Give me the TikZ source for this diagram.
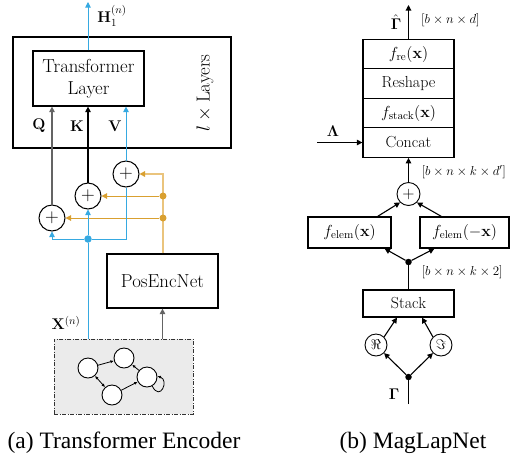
\RequirePackage{fix-cm}
\documentclass[tikz,border=0pt]{standalone}
\usepackage{amsmath,amssymb}
\usepackage[no-math]{fontspec}
\newfontfamily\capfont{Liberation Serif}
\usetikzlibrary{arrows.meta,calc}
\definecolor{cblue}{RGB}{54,169,225}
\definecolor{corange}{RGB}{217,160,48}
\definecolor{clorange}{RGB}{234,196,125}
\definecolor{cgray}{RGB}{100,100,100}
\definecolor{cfill}{RGB}{235,235,235}
\begin{document}
\begin{tikzpicture}[x=1pt,y=-1pt,
  bigtxt/.style={font=\fontsize{18.8}{22}\selectfont},
  midtxt/.style={font=\fontsize{16}{19}\selectfont},
  lbltxt/.style={font=\fontsize{15.5}{18}\selectfont},
  dimtxt/.style={font=\fontsize{13}{15}\selectfont},
  box/.style={draw, line width=1.2pt, inner sep=0pt, align=center},
  plus/.style={circle, draw, line width=1pt, inner sep=0pt},
  dot/.style={circle, fill, inner sep=0pt, minimum size=7pt},
  arr/.style={-{Triangle[length=5.5pt,width=5.5pt]}, line width=1.1pt},
  barr/.style={-{Triangle[length=5.5pt,width=5.5pt]}, line width=0.9pt, cblue},
  gnode/.style={circle, draw, fill=white, minimum size=20pt, inner sep=0pt, line width=0.9pt},
  garr/.style={-{Latex[length=3.5pt,width=3pt]}, line width=0.8pt},
  captxt/.style={font=\capfont\fontsize{23.5}{28}\selectfont}]
\useasboundingbox (0,0) rectangle (511,459);

% ---------- (a) Transformer Encoder ----------
\node[box, minimum width=218pt, minimum height=111pt] (outer) at (122,92.5) {};
\node[box, bigtxt, minimum width=111pt, minimum height=55pt] (tl) at (88.5,78.5) {Transformer\\Layer};
\node[bigtxt, rotate=90] (nlay) at (205,93) {$l\times{}$Layers};
\coordinate (hout) at (88,2);
\draw[barr] (tl.north -| hout) -- (hout);
\node[lbltxt] (hlab) at (112,16) {$\mathbf{H}_1^{(n)}$};

\node[plus, minimum size=26pt, font=\fontsize{19}{20}\selectfont] (p3) at (126,174) {$+$};
\node[plus, minimum size=26pt, font=\fontsize{19}{20}\selectfont] (p2) at (88,196) {$+$};
\node[plus, minimum size=26pt, font=\fontsize{19}{20}\selectfont] (p1) at (52,218) {$+$};

\draw[arr, cgray] (p1.north) -- (p1.north |- tl.south);
\draw[arr, black] (p2.north) -- (p2.north |- tl.south);
\draw[barr] (p3.north) -- (p3.north |- tl.south);
\node[lbltxt] (lq) at (39,126) {$\mathbf{Q}$};
\node[lbltxt] (lk) at (77,126) {$\mathbf{K}$};
\node[lbltxt] (lv) at (115,126) {$\mathbf{V}$};

\node[box, bigtxt, minimum width=111pt, minimum height=54pt] (pen) at (162.5,281) {PosEncNet};

% orange positional encodings
\coordinate (ocorner) at (163,174);
\draw[clorange, line width=1.4pt, -{Triangle[length=5.5pt,width=5.5pt,color=corange]}] (pen.north -| ocorner) -- (ocorner) -- (p3.east);
\node[dot, fill=corange] (o1) at (163,196) {};
\node[dot, fill=corange] (o2) at (163,218) {};
\draw[arr, corange, line width=1pt] (o1) -- (p2.east);
\draw[arr, corange, line width=1pt] (o2) -- (p1.east);

% graph box
\node[box, draw=black!80, line width=0.9pt, fill=cfill, dash pattern=on 4pt off 1.5pt on 1pt off 1.5pt,
      minimum width=139pt, minimum height=75pt] (gbox) at (123.5,376.5) {};
\node[gnode] (ga) at (88,368) {};
\node[gnode] (gb) at (124,358) {};
\node[gnode] (gc) at (147,377) {};
\node[gnode] (gd) at (112,395) {};
\draw[garr] (ga) -- (gb);
\draw[garr, {Latex[length=3.5pt,width=3pt]}-{Latex[length=3.5pt,width=3pt]}] (ga) -- (gd);
\draw[garr] (gd) -- (gc);
\draw[garr] (gc) -- (gb);
\draw[garr] (gc.-60) .. controls +(8,16) and +(12,4) .. (gc.5);

% blue input
\node[dot, fill=cblue, minimum size=7.5pt] (bd) at (88,239) {};
\draw[cblue, line width=0.9pt] (gbox.north -| bd) -- (bd);
\draw[barr] (bd) -- (p2.south);
\draw[barr] (bd) -| (p1.south);
\draw[cblue, line width=0.9pt] (bd) -| (p3.south);
\node[lbltxt] (xlab) at (66,323) {$\mathbf{X}^{(n)}$};
\draw[arr, cgray] (gbox.north -| pen) -- (pen.south);

\node[captxt] (capa) at (124,443) {(a) Transformer Encoder};

% ---------- (b) MagLapNet ----------
\node[box, midtxt, minimum width=91pt, minimum height=29.5pt] (r1) at (408.5,54) {$f_{\mathrm{re}}(\mathbf{x})$};
\node[box, midtxt, minimum width=91pt, minimum height=29.5pt] (r2) at (408.5,83.5) {Reshape};
\node[box, midtxt, minimum width=91pt, minimum height=29.5pt] (r3) at (408.5,113) {$f_{\mathrm{stack}}(\mathbf{x})$};
\node[box, midtxt, minimum width=91pt, minimum height=29.5pt] (r4) at (408.5,142.5) {Concat};

\coordinate (gout) at (408.5,5);
\draw[arr] (r1.north) -- (gout);
\node[lbltxt, inner sep=1pt] (ghat) at (396,22) {$\hat{\mathbf{\Gamma}}$};
\node[dimtxt, anchor=west, inner sep=1pt] (d1) at (420,20) {$[b\times n\times d]$};

\coordinate (lin) at (317,142.5);
\draw[arr] (lin) -- (r4.west);
\node[lbltxt] (llab) at (333,131) {$\mathbf{\Lambda}$};

\node[plus, minimum size=23pt, line width=0.9pt, font=\fontsize{16}{18}\selectfont] (pc) at (408.5,194) {$+$};
\draw[arr] (pc.north) -- (r4.south);
\node[dimtxt, anchor=west] (d2) at (418,172) {$[b\times n\times k\times d']$};

\node[box, midtxt, minimum width=83pt, minimum height=31pt] (fl) at (349.5,232.5) {$f_{\mathrm{elem}}(\mathbf{x})$};
\node[box, midtxt, minimum width=89pt, minimum height=31pt] (fr) at (464.5,232.5) {$f_{\mathrm{elem}}(-\mathbf{x})$};
\draw[arr] ($(fl.north east)+(-14,0)$) -- (pc.225);
\draw[arr] ($(fr.north west)+(22,0)$) -- (pc.-45);

\node[dot, fill=black, minimum size=6.5pt] (sd) at (408.5,262) {};
\draw[arr] (sd) -- ($(fl.south east)+(-7,0)$);
\draw[arr] (sd) -- ($(fr.south west)+(15,0)$);
\node[dimtxt, anchor=west] (d3) at (418,272) {$[b\times n\times k\times 2]$};

\node[box, midtxt, minimum width=91pt, minimum height=27pt] (stk) at (408.5,303.5) {Stack};
\draw[line width=1.1pt] (stk.north) -- (sd);

\node[plus, minimum size=22pt, line width=0.9pt, font=\fontsize{14}{16}\selectfont] (re) at (376,345) {$\Re$};
\node[plus, minimum size=22pt, line width=0.9pt, font=\fontsize{14}{16}\selectfont] (im) at (441,345) {$\Im$};
\draw[arr] (re.45) -- ($(stk.south)+(-11.5,0)$);
\draw[arr] (im.135) -- ($(stk.south)+(13.5,0)$);

\node[dot, fill=black, minimum size=6.5pt] (gdot) at (408.5,377) {};
\draw[arr] (gdot) -- (re.-45);
\draw[arr] (gdot) -- (im.-135);
\coordinate (gin) at (408.5,404);
\draw[line width=1.1pt] (gin) -- (gdot);
\node[lbltxt] (glab) at (394,394) {$\mathbf{\Gamma}$};

\node[captxt] (capb) at (413,443) {(b) MagLapNet};
\end{tikzpicture}
\end{document}
